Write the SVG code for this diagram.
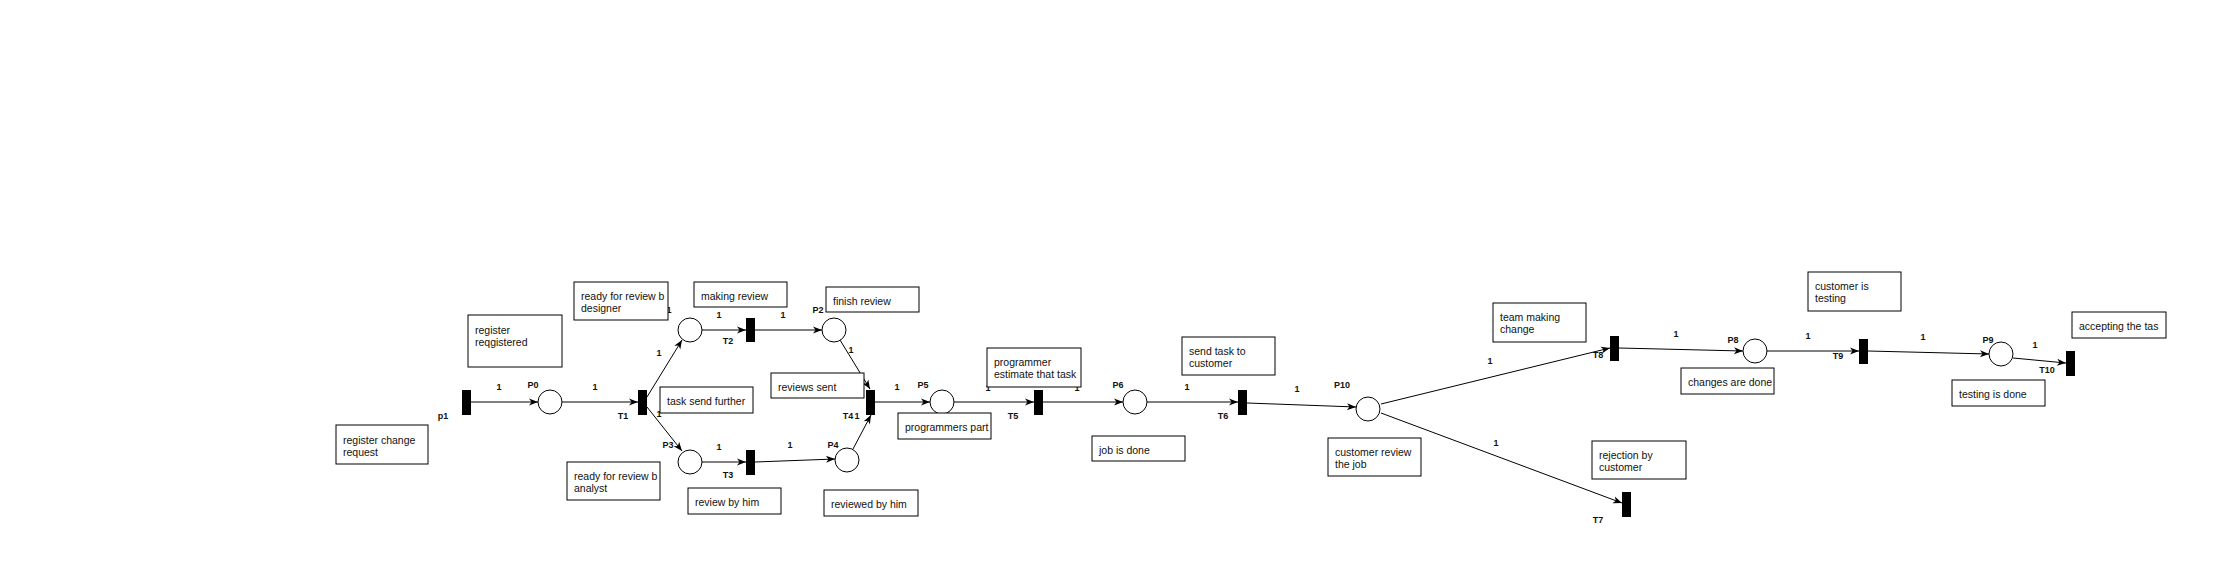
<svg xmlns="http://www.w3.org/2000/svg" width="2213" height="564" viewBox="0 0 2213 564">
<defs>
<marker id="arr" viewBox="-10 -5 10 10" markerWidth="10" markerHeight="10" refX="0" refY="0" orient="auto" markerUnits="userSpaceOnUse">
<path d="M-9,-3.5 L0,0 L-9,3.5 L-6.5,0 Z" fill="#000"/>
</marker>
<style>
.arc{stroke:#000;stroke-width:1;fill:none;marker-end:url(#arr)}
.pl{fill:#fff;stroke:#000;stroke-width:1}
.tr{fill:#000}
.lb{font-family:"Liberation Sans",Arial,sans-serif;font-size:9px;font-weight:bold;fill:#111;text-anchor:middle}
.box{fill:#fff;stroke:#000;stroke-width:1}
.bt{font-family:"Liberation Sans",Arial,sans-serif;font-size:10.5px;fill:#111}
</style>
</defs>
<rect width="2213" height="564" fill="#fff"/>

<g id="connectors">
<line class="arc" x1="471" y1="402" x2="538" y2="402"/>
<line class="arc" x1="562" y1="402" x2="638" y2="402"/>
<line class="arc" x1="647" y1="397" x2="682" y2="340"/>
<line class="arc" x1="647" y1="407" x2="682" y2="451"/>
<line class="arc" x1="702" y1="330" x2="746" y2="330"/>
<line class="arc" x1="755" y1="330" x2="822" y2="330"/>
<line class="arc" x1="840" y1="340" x2="870" y2="389"/>
<line class="arc" x1="702" y1="462" x2="746" y2="462"/>
<line class="arc" x1="755" y1="462" x2="835" y2="459"/>
<line class="arc" x1="853" y1="449" x2="871" y2="415"/>
<line class="arc" x1="875" y1="402" x2="930" y2="402"/>
<line class="arc" x1="954" y1="402" x2="1034" y2="402"/>
<line class="arc" x1="1043" y1="402" x2="1123" y2="402"/>
<line class="arc" x1="1147" y1="402" x2="1238" y2="402"/>
<line class="arc" x1="1247" y1="403" x2="1356" y2="407"/>
<line class="arc" x1="1381" y1="404" x2="1610" y2="348"/>
<line class="arc" x1="1381" y1="413" x2="1622" y2="503"/>
<line class="arc" x1="1619" y1="348" x2="1743" y2="351"/>
<line class="arc" x1="1767" y1="351" x2="1859" y2="351"/>
<line class="arc" x1="1868" y1="351" x2="1989" y2="354"/>
<line class="arc" x1="2013" y1="358" x2="2066" y2="363"/>
<g class="lb">
<text x="499" y="390">1</text>
<text x="595" y="390">1</text>
<text x="659" y="356">1</text>
<text x="659" y="417">1</text>
<text x="719" y="318">1</text>
<text x="783" y="318">1</text>
<text x="851" y="353">1</text>
<text x="857" y="419">1</text>
<text x="719" y="450">1</text>
<text x="790" y="448">1</text>
<text x="897" y="390">1</text>
<text x="988" y="391">1</text>
<text x="1077" y="391">1</text>
<text x="1187" y="390">1</text>
<text x="1297" y="392">1</text>
<text x="1490" y="364">1</text>
<text x="1496" y="446">1</text>
<text x="1676" y="337">1</text>
<text x="1808" y="339">1</text>
<text x="1923" y="340">1</text>
<text x="2035" y="348">1</text>
</g>
</g>

<g id="p1"><rect class="tr" x="462" y="390" width="9" height="25"/><text class="lb" x="443" y="419">p1</text></g>
<g id="P0"><circle class="pl" cx="550" cy="402" r="12"/><text class="lb" x="533" y="388">P0</text></g>
<g id="T1"><rect class="tr" x="638" y="390" width="9" height="25"/><text class="lb" x="623" y="419">T1</text></g>
<g id="P1"><circle class="pl" cx="690" cy="330" r="12"/><text class="lb" x="666" y="313">P1</text></g>
<g id="P3"><circle class="pl" cx="690" cy="462" r="12"/><text class="lb" x="668" y="448">P3</text></g>
<g id="T2"><rect class="tr" x="746" y="318" width="9" height="24"/><text class="lb" x="728" y="344">T2</text></g>
<g id="T3"><rect class="tr" x="746" y="450" width="9" height="25"/><text class="lb" x="728" y="478">T3</text></g>
<g id="P2"><circle class="pl" cx="834" cy="330" r="12"/><text class="lb" x="818" y="313">P2</text></g>
<g id="P4"><circle class="pl" cx="847" cy="460" r="12"/><text class="lb" x="833" y="448">P4</text></g>
<g id="T4"><rect class="tr" x="866" y="390" width="9" height="25"/><text class="lb" x="848" y="419">T4</text></g>
<g id="P5"><circle class="pl" cx="942" cy="402" r="12"/><text class="lb" x="923" y="388">P5</text></g>
<g id="T5"><rect class="tr" x="1034" y="390" width="9" height="25"/><text class="lb" x="1013" y="419">T5</text></g>
<g id="P6"><circle class="pl" cx="1135" cy="402" r="12"/><text class="lb" x="1118" y="388">P6</text></g>
<g id="T6"><rect class="tr" x="1238" y="390" width="9" height="25"/><text class="lb" x="1223" y="419">T6</text></g>
<g id="P10"><circle class="pl" cx="1368" cy="409" r="12"/><text class="lb" x="1342" y="388">P10</text></g>
<g id="T8"><rect class="tr" x="1610" y="336" width="9" height="25"/><text class="lb" x="1598" y="358">T8</text></g>
<g id="T7"><rect class="tr" x="1622" y="492" width="9" height="25"/><text class="lb" x="1598" y="523">T7</text></g>
<g id="P8"><circle class="pl" cx="1755" cy="351" r="12"/><text class="lb" x="1733" y="343">P8</text></g>
<g id="T9"><rect class="tr" x="1859" y="339" width="9" height="25"/><text class="lb" x="1838" y="359">T9</text></g>
<g id="P9"><circle class="pl" cx="2001" cy="354" r="12"/><text class="lb" x="1988" y="343">P9</text></g>
<g id="T10"><rect class="tr" x="2066" y="351" width="9" height="25"/><text class="lb" x="2047" y="373">T10</text></g>

<g id="note-register-change"><rect class="box" x="336" y="425" width="92" height="39"/><text class="bt" x="343" y="444">register change</text><text class="bt" x="343" y="456">request</text></g>
<g id="note-register-registered"><rect class="box" x="468" y="315" width="94" height="52"/><text class="bt" x="475" y="334">register</text><text class="bt" x="475" y="346">reqgistered</text></g>
<g id="note-designer"><rect class="box" x="574" y="282" width="94" height="38"/><text class="bt" x="581" y="300">ready for review b</text><text class="bt" x="581" y="312">designer</text></g>
<g id="note-analyst"><rect class="box" x="567" y="462" width="93" height="38"/><text class="bt" x="574" y="480">ready for review b</text><text class="bt" x="574" y="492">analyst</text></g>
<g id="note-task-send"><rect class="box" x="660" y="387" width="93" height="26"/><text class="bt" x="667" y="405">task send  further</text></g>
<g id="note-making-review"><rect class="box" x="694" y="282" width="93" height="25"/><text class="bt" x="701" y="300">making review</text></g>
<g id="note-review-by-him"><rect class="box" x="688" y="488" width="93" height="26"/><text class="bt" x="695" y="506">review by him</text></g>
<g id="note-finish-review"><rect class="box" x="826" y="287" width="93" height="25"/><text class="bt" x="833" y="305">finish review</text></g>
<g id="note-reviews-sent"><rect class="box" x="771" y="373" width="93" height="25"/><text class="bt" x="778" y="391">reviews sent</text></g>
<g id="note-reviewed-by-him"><rect class="box" x="824" y="490" width="94" height="26"/><text class="bt" x="831" y="508">reviewed by him</text></g>
<g id="note-programmers-part"><rect class="box" x="898" y="413" width="93" height="26"/><text class="bt" x="905" y="431">programmers part</text></g>
<g id="note-programmer-estimate"><rect class="box" x="987" y="348" width="94" height="39"/><text class="bt" x="994" y="366">programmer</text><text class="bt" x="994" y="378">estimate that task</text></g>
<g id="note-job-done"><rect class="box" x="1092" y="436" width="93" height="25"/><text class="bt" x="1099" y="454">job is done</text></g>
<g id="note-send-task"><rect class="box" x="1182" y="337" width="93" height="38"/><text class="bt" x="1189" y="355">send task to</text><text class="bt" x="1189" y="367">customer</text></g>
<g id="note-customer-review"><rect class="box" x="1328" y="438" width="93" height="38"/><text class="bt" x="1335" y="456">customer review</text><text class="bt" x="1335" y="468">the job</text></g>
<g id="note-team-making"><rect class="box" x="1493" y="303" width="93" height="39"/><text class="bt" x="1500" y="321">team making</text><text class="bt" x="1500" y="333">change</text></g>
<g id="note-rejection"><rect class="box" x="1592" y="441" width="94" height="38"/><text class="bt" x="1599" y="459">rejection by</text><text class="bt" x="1599" y="471">customer</text></g>
<g id="note-changes-done"><rect class="box" x="1681" y="368" width="93" height="26"/><text class="bt" x="1688" y="386">changes are done</text></g>
<g id="note-customer-testing"><rect class="box" x="1808" y="272" width="93" height="39"/><text class="bt" x="1815" y="290">customer is</text><text class="bt" x="1815" y="302">testing</text></g>
<g id="note-testing-done"><rect class="box" x="1952" y="380" width="93" height="26"/><text class="bt" x="1959" y="398">testing is done</text></g>
<g id="note-accepting"><rect class="box" x="2072" y="312" width="94" height="26"/><text class="bt" x="2079" y="330">accepting the tas</text></g>
</svg>
